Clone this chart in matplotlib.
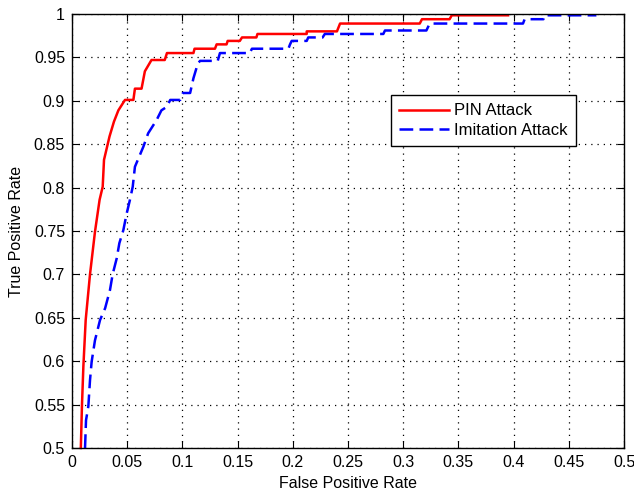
import matplotlib
matplotlib.use("Agg")
import matplotlib.pyplot as plt
import numpy as np

plt.rcParams['font.family'] = ['Liberation Sans', 'DejaVu Sans']

# PIN Attack ROC (red)
pin_fpr = [0.008, 0.009, 0.0103, 0.0124, 0.0163, 0.0208, 0.025, 0.0278, 0.029, 0.034,
           0.038, 0.042, 0.048, 0.0556, 0.057, 0.063, 0.066, 0.072, 0.084, 0.086,
           0.110, 0.111, 0.1295, 0.131, 0.140, 0.141, 0.152, 0.154, 0.167, 0.168,
           0.2126, 0.2126, 0.240, 0.2428, 0.315, 0.317, 0.342, 0.344, 0.395]
pin_tpr = [0.5, 0.548, 0.594, 0.6475, 0.70, 0.749, 0.786, 0.801, 0.832, 0.859,
           0.876, 0.889, 0.901, 0.901, 0.914, 0.914, 0.934, 0.947, 0.947, 0.955,
           0.955, 0.960, 0.960, 0.965, 0.965, 0.969, 0.969, 0.973, 0.973, 0.977,
           0.977, 0.980, 0.980, 0.989, 0.989, 0.994, 0.994, 0.9985, 0.9985]

# Imitation Attack ROC (blue)
imit_fpr = [0.0118, 0.0127, 0.0148, 0.0163, 0.0178, 0.0208, 0.0254, 0.030, 0.0344, 0.0368,
            0.0405, 0.0429, 0.0465, 0.0495, 0.0525, 0.055, 0.057, 0.0646, 0.069, 0.0767,
            0.081, 0.0858, 0.089, 0.098, 0.1005, 0.107, 0.110, 0.114, 0.116, 0.132,
            0.134, 0.161, 0.163, 0.196, 0.1975, 0.199, 0.2126, 0.214, 0.227, 0.229,
            0.282, 0.2835, 0.321, 0.3225, 0.324, 0.4085, 0.410, 0.427, 0.428, 0.475]
imit_tpr = [0.5, 0.532, 0.548, 0.578, 0.5995, 0.624, 0.6475, 0.661, 0.682, 0.70,
            0.7185, 0.736, 0.751, 0.770, 0.786, 0.801, 0.824, 0.847, 0.8626, 0.878,
            0.889, 0.893, 0.901, 0.901, 0.909, 0.909, 0.926, 0.943, 0.946, 0.946,
            0.955, 0.955, 0.960, 0.960, 0.965, 0.969, 0.969, 0.973, 0.973, 0.977,
            0.977, 0.981, 0.981, 0.985, 0.989, 0.989, 0.994, 0.994, 0.9985, 0.9985]

xticks = [0, 0.05, 0.1, 0.15, 0.2, 0.25, 0.3, 0.35, 0.4, 0.45, 0.5]
xticklabels = ['0', '0.05', '0.1', '0.15', '0.2', '0.25', '0.3', '0.35', '0.4', '0.45', '0.5']
yticks = [0.5, 0.55, 0.6, 0.65, 0.7, 0.75, 0.8, 0.85, 0.9, 0.95, 1.0]
yticklabels = ['0.5', '0.55', '0.6', '0.65', '0.7', '0.75', '0.8', '0.85', '0.9', '0.95', '1']

fig = plt.figure(figsize=(6.34, 4.95), dpi=100)
ax = fig.add_axes([72/634, 1-448/495, 552/634, 434/495])

ax.plot(pin_fpr, pin_tpr, color='#ff0000', lw=1.8, label='PIN Attack', clip_on=False)
ax.plot(imit_fpr, imit_tpr, color='#0000ff', lw=1.8, linestyle=(0, (5.5, 2.5)),
        label='Imitation Attack', clip_on=False)

ax.set_xlim(0, 0.5)
ax.set_ylim(0.5, 1.0)
ax.set_xticks(xticks)
ax.set_xticklabels(xticklabels)
ax.set_yticks(yticks)
ax.set_yticklabels(yticklabels)
ax.tick_params(direction='in', length=5, width=0.8, top=True, right=True,
               labelsize=11.5, pad=5, colors='black')
ax.grid(True, color='black', linestyle=(0, (1, 4)), linewidth=0.9)
for s in ax.spines.values():
    s.set_linewidth(1.0)
    s.set_color('black')

ax.set_xlabel('False Positive Rate', fontsize=11.5, labelpad=4)
ax.set_ylabel('True Positive Rate', fontsize=11.5, labelpad=7)

leg = ax.legend(loc='upper left', bbox_to_anchor=(0.578, 0.813), borderaxespad=0,
                fontsize=12, handlelength=3.0, handletextpad=0.3, labelspacing=0.25,
                borderpad=0.5, fancybox=False, framealpha=1, edgecolor='black')
leg.get_frame().set_linewidth(1.0)

fig.savefig('out.png', dpi=100)
